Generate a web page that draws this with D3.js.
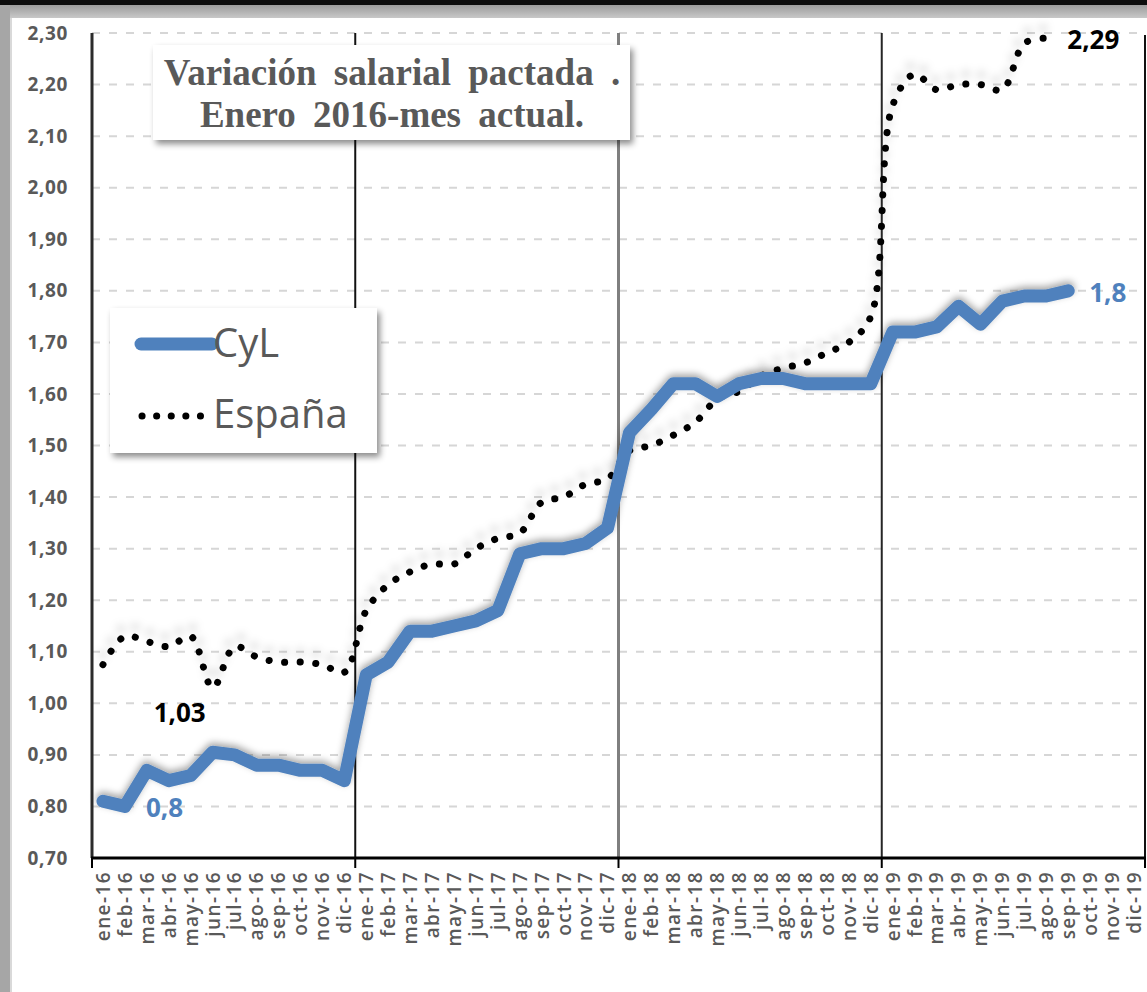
<!DOCTYPE html>
<html>
<head>
<meta charset="utf-8">
<script src="https://cdn.jsdelivr.net/npm/d3@7"></script>
<style>
    body { margin: 0; background: #ffffff; }
    svg { display: block; }
</style>
</head>
<body>
<div id="canvas"></div>
<script>
"use strict"

/* Data */
let months = [
    "ene-16", "feb-16", "mar-16", "abr-16", "may-16", "jun-16", "jul-16", "ago-16", "sep-16", "oct-16", "nov-16", "dic-16",
    "ene-17", "feb-17", "mar-17", "abr-17", "may-17", "jun-17", "jul-17", "ago-17", "sep-17", "oct-17", "nov-17", "dic-17",
    "ene-18", "feb-18", "mar-18", "abr-18", "may-18", "jun-18", "jul-18", "ago-18", "sep-18", "oct-18", "nov-18", "dic-18",
    "ene-19", "feb-19", "mar-19", "abr-19", "may-19", "jun-19", "jul-19", "ago-19", "sep-19", "oct-19", "nov-19", "dic-19"
];

/* CyL: ene-16 .. sep-19 */
let cylValues = [
    0.81, 0.80, 0.87, 0.85, 0.86, 0.905, 0.90, 0.88, 0.88, 0.87, 0.87, 0.85,
    1.055, 1.08, 1.14, 1.14, 1.15, 1.16, 1.18, 1.29, 1.30, 1.30, 1.31, 1.34,
    1.525, 1.57, 1.62, 1.62, 1.595, 1.62, 1.63, 1.63, 1.62, 1.62, 1.62, 1.62,
    1.72, 1.72, 1.73, 1.77, 1.735, 1.78, 1.79, 1.79, 1.80
];

/* España: ene-16 .. ago-19 */
let espValues = [
    1.075, 1.13, 1.12, 1.11, 1.13, 1.03, 1.11, 1.09, 1.08, 1.08, 1.075, 1.06,
    1.18, 1.23, 1.255, 1.27, 1.27, 1.30, 1.32, 1.33, 1.39, 1.40, 1.425, 1.435,
    1.49, 1.50, 1.52, 1.545, 1.59, 1.605, 1.635, 1.65, 1.66, 1.68, 1.70, 1.75,
    2.16, 2.22, 2.19, 2.20, 2.20, 2.19, 2.28, 2.29
];

let yTicks = [0.70, 0.80, 0.90, 1.00, 1.10, 1.20, 1.30, 1.40, 1.50, 1.60, 1.70, 1.80, 1.90, 2.00, 2.10, 2.20, 2.30];

let seriesNames = ["CyL", "España"];

let titleLines = ["Variación salarial pactada .", "Enero 2016-mes actual."];

/* point labels: series, month index, text */
let pointLabels = [
    {series: "CyL", index: 1, text: "0,8"},
    {series: "CyL", index: 44, text: "1,8"},
    {series: "España", index: 5, text: "1,03"},
    {series: "España", index: 43, text: "2,29"}
];

/* Configuration variables: drawing */
let svgWidth = 1147;
let svgHeight = 992;
let plotLeft = 92;
let plotRight = 1145;
let plotTop = 33;
let plotBottom = 858;
let blue = "#4f81bd";
let grey = "#595959";

let svg = d3.select("#canvas")
    .append("svg")
    .attr("width", svgWidth)
    .attr("height", svgHeight);

let defs = svg.append("defs");

/* shadow used by the boxes */
let boxShadow = defs.append("filter")
    .attr("id", "boxShadow")
    .attr("x", "-10%").attr("y", "-10%")
    .attr("width", "130%").attr("height", "140%");
boxShadow.append("feDropShadow")
    .attr("dx", 3).attr("dy", 4)
    .attr("stdDeviation", 3)
    .attr("flood-color", "#000")
    .attr("flood-opacity", 0.45);

/* soft glow under the lines */
let lineShadow = defs.append("filter")
    .attr("id", "lineShadow")
    .attr("x", "-5%").attr("y", "-10%")
    .attr("width", "110%").attr("height", "120%");
lineShadow.append("feDropShadow")
    .attr("dx", 0).attr("dy", -3)
    .attr("stdDeviation", 3.5)
    .attr("flood-color", "#000")
    .attr("flood-opacity", 0.35);

let dotShadow = defs.append("filter")
    .attr("id", "dotShadow")
    .attr("x", "-5%").attr("y", "-20%")
    .attr("width", "110%").attr("height", "140%");
dotShadow.append("feDropShadow")
    .attr("dx", 0).attr("dy", -10)
    .attr("stdDeviation", 4)
    .attr("flood-color", "#000")
    .attr("flood-opacity", 0.18);

let topGrad = defs.append("linearGradient")
    .attr("id", "topGrad")
    .attr("x1", 0).attr("y1", 0).attr("x2", 0).attr("y2", 1);
topGrad.append("stop").attr("offset", "0%").attr("stop-color", "#8c8c8c");
topGrad.append("stop").attr("offset", "100%").attr("stop-color", "#c8c8c8");

/* Background and picture frame */
svg.append("rect")
    .attr("width", svgWidth)
    .attr("height", svgHeight)
    .attr("fill", "#ffffff");

svg.append("rect")
    .attr("x", 0).attr("y", 0)
    .attr("width", svgWidth).attr("height", 18)
    .attr("fill", "url(#topGrad)");

svg.append("rect")
    .attr("x", 0).attr("y", 0)
    .attr("width", 10).attr("height", svgHeight)
    .attr("fill", "#a6a6a6");

svg.append("rect")
    .attr("x", 10).attr("y", 18)
    .attr("width", 2).attr("height", svgHeight - 18)
    .attr("fill", "#d9d9d9");

svg.append("rect")
    .attr("x", 0).attr("y", 0)
    .attr("width", svgWidth).attr("height", 5)
    .attr("fill", "#0d0d0d");

/* Scales */
let xScale = d3.scaleBand()
    .domain(months)
    .range([plotLeft, plotRight])
    .paddingInner(0)
    .paddingOuter(0);

let yScale = d3.scaleLinear()
    .domain([0.70, 2.30])
    .range([plotBottom, plotTop]);

function xCenter(i) {
    return xScale(months[i]) + xScale.bandwidth() / 2;
}

function commaFormat(v) {
    return d3.format(".2f")(v).replace(".", ",");
}

/* Horizontal dashed gridlines */
svg.append("g")
    .selectAll("line")
    .data(yTicks)
    .join("line")
    .attr("x1", plotLeft)
    .attr("x2", plotRight)
    .attr("y1", d => yScale(d))
    .attr("y2", d => yScale(d))
    .attr("stroke", "#d6d6d6")
    .attr("stroke-width", 2)
    .attr("stroke-dasharray", "8,9");

/* Y axis labels */
let yAxis = d3.axisLeft(yScale)
    .tickValues(yTicks)
    .tickFormat(commaFormat)
    .tickSize(0)
    .tickPadding(24);

let yAxisG = svg.append("g")
    .attr("transform", "translate(" + plotLeft + ",0)")
    .call(yAxis);
yAxisG.select(".domain").remove();
yAxisG.selectAll("text")
    .attr("font-family", "'Open Sans', sans-serif")
    .attr("font-weight", "bold")
    .attr("font-size", 19)
    .attr("letter-spacing", 0.6)
    .attr("fill", grey);

/* Vertical year separators */
let yearStarts = [0, 12, 24, 36];
let sepStyles = [
    {color: "#2b2b2b", width: 3},
    {color: "#111111", width: 2},
    {color: "#7f7f7f", width: 3},
    {color: "#262626", width: 2}
];
yearStarts.forEach(function (idx, k) {
    svg.append("line")
        .attr("x1", xScale(months[idx]))
        .attr("x2", xScale(months[idx]))
        .attr("y1", yScale(2.30))
        .attr("y2", yScale(0.70))
        .attr("stroke", sepStyles[k].color)
        .attr("stroke-width", sepStyles[k].width);
});
svg.append("line")
    .attr("x1", plotRight)
    .attr("x2", plotRight)
    .attr("y1", yScale(2.30) + 2)
    .attr("y2", yScale(0.70))
    .attr("stroke", "#111111")
    .attr("stroke-width", 2);

/* Title box */
svg.append("rect")
    .attr("x", 153)
    .attr("y", 45)
    .attr("width", 477)
    .attr("height", 95)
    .attr("fill", "#ffffff")
    .attr("filter", "url(#boxShadow)");

svg.append("g")
    .selectAll("text")
    .data(titleLines)
    .join("text")
    .attr("x", 392)
    .attr("y", (d, i) => 85 + i * 42)
    .attr("text-anchor", "middle")
    .attr("font-family", "'Liberation Serif', serif")
    .attr("font-weight", "bold")
    .attr("font-size", 37)
    .attr("word-spacing", 8)
    .attr("fill", grey)
    .text(d => d);

/* Legend */
svg.append("rect")
    .attr("x", 110)
    .attr("y", 308)
    .attr("width", 267)
    .attr("height", 145)
    .attr("fill", "#ffffff")
    .attr("filter", "url(#boxShadow)");

svg.append("line")
    .attr("x1", 141).attr("x2", 212)
    .attr("y1", 344).attr("y2", 344)
    .attr("stroke", blue)
    .attr("stroke-width", 13)
    .attr("stroke-linecap", "round");

svg.append("line")
    .attr("x1", 142).attr("x2", 201)
    .attr("y1", 416).attr("y2", 416)
    .attr("stroke", "#000")
    .attr("stroke-width", 7)
    .attr("stroke-linecap", "round")
    .attr("stroke-dasharray", "0.1,14.5");

svg.append("g")
    .selectAll("text")
    .data(seriesNames)
    .join("text")
    .attr("x", 213)
    .attr("y", (d, i) => 357 + i * 71)
    .attr("font-family", "'Open Sans', sans-serif")
    .attr("font-size", 40)
    .attr("fill", grey)
    .text(d => d);

/* Series */
let cylLine = d3.line()
    .x((d, i) => xCenter(i))
    .y(d => yScale(d));

let espLine = d3.line()
    .x((d, i) => xCenter(i))
    .y(d => yScale(d))
    .curve(d3.curveCatmullRom.alpha(0.5));

svg.append("path")
    .datum(espValues)
    .attr("d", espLine)
    .attr("fill", "none")
    .attr("stroke", "#000")
    .attr("stroke-width", 7)
    .attr("stroke-linecap", "round")
    .attr("stroke-dasharray", "0.1,15.5")
    .attr("filter", "url(#dotShadow)");

svg.append("path")
    .datum(cylValues)
    .attr("d", cylLine)
    .attr("fill", "none")
    .attr("stroke", blue)
    .attr("stroke-width", 13)
    .attr("stroke-linejoin", "round")
    .attr("stroke-linecap", "round")
    .attr("filter", "url(#lineShadow)");

/* X axis */
svg.append("line")
    .attr("x1", plotLeft - 1)
    .attr("x2", plotRight + 1)
    .attr("y1", plotBottom)
    .attr("y2", plotBottom)
    .attr("stroke", "#000")
    .attr("stroke-width", 3);

let yearTicks = [0, 12, 24, 36, 48];
svg.append("g")
    .selectAll("line")
    .data(yearTicks)
    .join("line")
    .attr("x1", d => d < 48 ? xScale(months[d]) : plotRight)
    .attr("x2", d => d < 48 ? xScale(months[d]) : plotRight)
    .attr("y1", plotBottom)
    .attr("y2", plotBottom + 10)
    .attr("stroke", "#000")
    .attr("stroke-width", 2);

svg.append("g")
    .selectAll("text")
    .data(months)
    .join("text")
    .attr("transform", (d, i) => "translate(" + xCenter(i) + "," + (plotBottom + 13) + ") rotate(-90)")
    .attr("dy", "0.36em")
    .attr("text-anchor", "end")
    .attr("font-family", "'Open Sans', sans-serif")
    .attr("font-size", 19)
    .attr("font-weight", 600)
    .attr("letter-spacing", 1.4)
    .attr("fill", grey)
    .text(d => d);

/* Point labels */
pointLabels.forEach(function (lab) {
    let values = lab.series === "CyL" ? cylValues : espValues;
    let px = xCenter(lab.index);
    let py = yScale(values[lab.index]);
    let t = svg.append("text")
        .attr("font-family", "'Open Sans', sans-serif")
        .attr("font-weight", "bold")
        .attr("font-size", 26)
        .attr("dominant-baseline", "central")
        .attr("fill", lab.series === "CyL" ? blue : "#000")
        .text(lab.text);
    if (lab.text === "1,03") {
        /* this one sits below left of the dip */
        t.attr("x", px - 7).attr("y", py + 24).attr("text-anchor", "end");
    } else {
        t.attr("x", px + 21).attr("y", py + 1).attr("text-anchor", "start");
    }
});
</script>
</body>
</html>
